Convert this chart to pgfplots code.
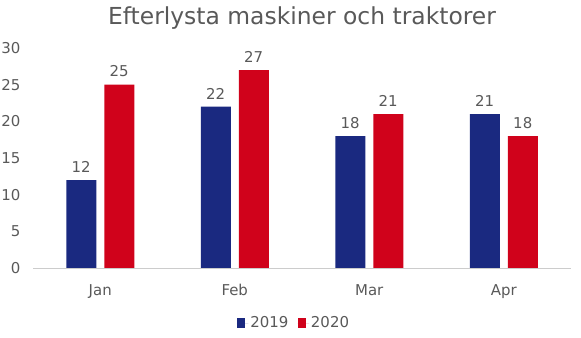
\documentclass[border=0pt]{standalone}
\usepackage{pgfplots}
\pgfplotsset{compat=1.18}
\usepackage{fontspec}
\setmainfont{DejaVu Sans}
\definecolor{cblue}{RGB}{26,41,128}
\definecolor{cred}{RGB}{208,2,27}
\definecolor{ctext}{RGB}{89,89,89}
\begin{document}
\begin{tikzpicture}
\path[use as bounding box] (0,0) rectangle (581bp,338bp);
\begin{axis}[
  at={(33bp,70bp)}, anchor=south west,
  scale only axis, width=538bp, height=220bp,
  xmin=-0.5, xmax=3.5, ymin=0, ymax=30,
  ytick={0,5,...,30},
  xtick={0,1,2,3}, xticklabels={Jan,Feb,Mar,Apr},
  axis x line*=bottom, axis y line*=left,
  y axis line style={draw=none},
  x axis line style={draw=black!20, line width=0.8bp},
  major tick length=0,
  /pgf/number format/assume math mode=true,
  tick label style={font=\fontsize{15}{17}\selectfont, text=ctext},
  xticklabel style={yshift=-13bp},
  yticklabel style={xshift=-9bp},
  ybar, bar width=30bp,
  enlarge x limits=false,
  nodes near coords,
  every node near coord/.append style={font=\fontsize{15}{17}\selectfont, text=ctext, yshift=4bp},
  title={Efterlysta maskiner och traktorer},
  title style={at={(0.5,1)}, anchor=center, yshift=24bp, font=\fontsize{23.5}{26}\selectfont, text=ctext},
  legend style={at={(0.5,-0.25)}, anchor=center, xshift=-8bp, draw=none, legend columns=2,
    font=\fontsize{15}{17}\selectfont, text=ctext,
    /tikz/every even column/.append style={column sep=7bp}},
  legend image code/.code={\fill[#1] (0bp,-4.5bp) rectangle (8.5bp,4.5bp); \path (0bp,0bp) -- (11.5bp,0bp);},
]
\addplot[fill=cblue, draw=none, bar shift=-19bp] coordinates {(0,12) (1,22) (2,18) (3,21)};
\addplot[fill=cred, draw=none, bar shift=19bp] coordinates {(0,25) (1,27) (2,21) (3,18)};
\legend{2019,2020}
\end{axis}
\end{tikzpicture}
\end{document}
